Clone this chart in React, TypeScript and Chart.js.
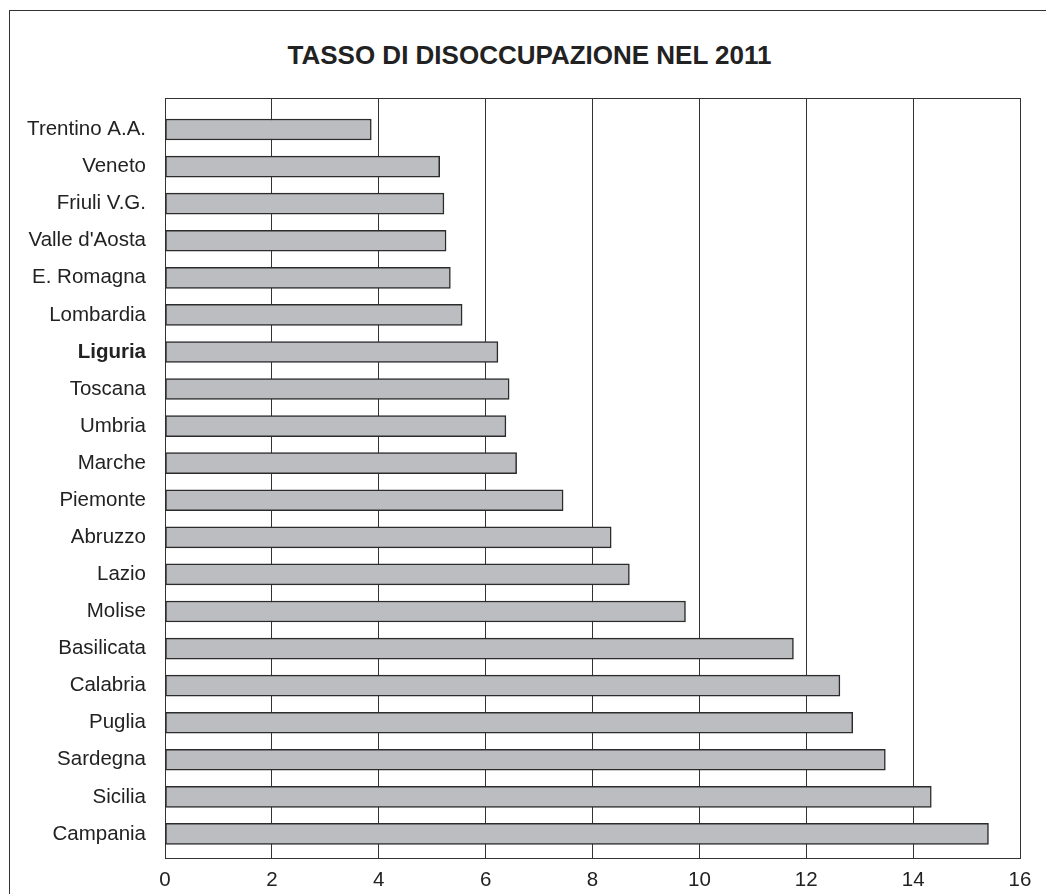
import React, { useEffect, useRef } from 'react';
import { Chart, registerables } from 'chart.js';

Chart.register(...registerables);

const chartTitle = 'TASSO DI DISOCCUPAZIONE NEL 2011';
const regions = [
  'Trentino A.A.', 'Veneto', 'Friuli V.G.', "Valle d'Aosta", 'E. Romagna',
  'Lombardia', 'Liguria', 'Toscana', 'Umbria', 'Marche',
  'Piemonte', 'Abruzzo', 'Lazio', 'Molise', 'Basilicata',
  'Calabria', 'Puglia', 'Sardegna', 'Sicilia', 'Campania',
];
const rates = [
  3.86, 5.14, 5.22, 5.26, 5.34,
  5.56, 6.23, 6.44, 6.38, 6.58,
  7.45, 8.35, 8.69, 9.74, 11.76,
  12.63, 12.87, 13.48, 14.34, 15.41,
];
const highlighted = 'Liguria';
const xMin = 0;
const xMax = 16;
const xStep = 2;

const FONT = '"Liberation Sans", Arial, Helvetica, sans-serif';

const plotFrame = {
  id: 'plotFrame',
  beforeDatasetsDraw(chart: any) {
    const { ctx, chartArea } = chart;
    const { left, top, right, bottom } = chartArea;
    ctx.save();
    ctx.strokeStyle = '#333';
    ctx.lineWidth = 1;
    ctx.strokeRect(Math.round(left) + 0.5, Math.round(top) + 0.5, Math.round(right - left), Math.round(bottom - top));
    ctx.restore();
  },
};

export default function App() {
  const canvasRef = useRef<HTMLCanvasElement | null>(null);

  useEffect(() => {
    const canvas = canvasRef.current;
    if (!canvas) return;
    const chart = new Chart(canvas, {
      type: 'bar',
      data: {
        datasets: [
          {
            data: rates.map((v, i) => ({ x: v, y: i })),
            backgroundColor: '#bcbdc1',
            borderColor: '#2b2b2b',
            borderWidth: 1.5,
            borderSkipped: false,
            barThickness: 21,
          },
        ],
      },
      options: {
        indexAxis: 'y',
        responsive: false,
        animation: false,
        devicePixelRatio: 1,
        layout: { padding: { left: 0, right: 26, top: 98, bottom: 1 } },
        plugins: {
          legend: { display: false },
          tooltip: { enabled: false },
          title: { display: false },
        },
        scales: {
          x: {
            type: 'linear',
            position: 'bottom',
            min: xMin,
            max: xMax,
            ticks: {
              stepSize: xStep,
              color: '#222',
              padding: 10,
              font: { family: FONT, size: 20.5 },
            },
            grid: { color: '#333', lineWidth: 1, drawTicks: false },
            border: { display: true, color: '#333', width: 1 },
          },
          y: {
            type: 'linear',
            reverse: true,
            offset: false,
            min: -0.85,
            max: 19.66,
            afterFit: (scale: any) => {
              scale.width = 165;
            },
            ticks: {
              stepSize: 1,
              autoSkip: false,
              includeBounds: false,
              color: '#222',
              padding: 19,
              font: (ctx: any) => ({
                family: FONT,
                size: 20.5,
                weight: ctx.tick && regions[ctx.tick.value] === highlighted ? 'bold' : 'normal',
              }),
              callback: (value: any) =>
                Number.isInteger(value) && regions[value] !== undefined ? regions[value] : '',
            },
            grid: { display: false, drawTicks: false, offset: false },
            border: { display: false },
          },
        },
      },
      plugins: [plotFrame],
    } as any);
    return () => chart.destroy();
  }, []);

  return (
    <div style={{ position: 'fixed', left: 0, top: 0, width: 1046, height: 894, background: '#fff', overflow: 'hidden' }}>
      <div
        style={{
          position: 'absolute',
          left: 9,
          top: 10,
          width: 1200,
          height: 1000,
          borderLeft: '1px solid #333',
          borderTop: '1px solid #333',
        }}
      />
      <div
        style={{
          position: 'absolute',
          left: 39,
          width: 981,
          top: 40,
          lineHeight: '30px',
          fontSize: 26,
          fontWeight: 'bold',
          fontFamily: FONT,
          color: '#222',
          textAlign: 'center',
          whiteSpace: 'nowrap',
        }}
      >
        {chartTitle}
      </div>
      <canvas ref={canvasRef} width={1046} height={904} style={{ position: 'absolute', left: 0, top: 0 }} />
    </div>
  );
}
